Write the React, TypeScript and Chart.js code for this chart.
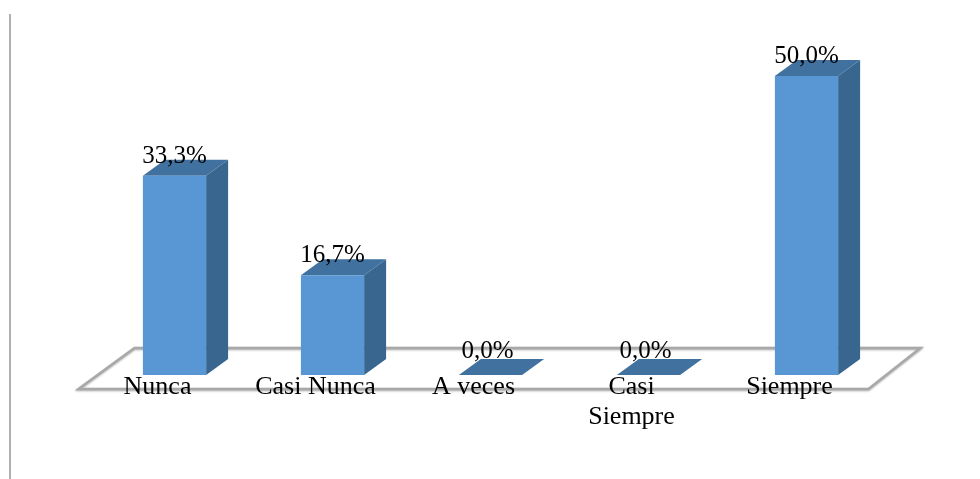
import React, { useEffect, useRef } from "react";
import { Chart, registerables } from "chart.js";

Chart.register(...registerables);

const categories: (string | string[])[] = ["Nunca", "Casi Nunca", "A veces", ["Casi", "Siempre"], "Siempre"];
const percentages = [33.3, 16.7, 0, 0, 50];

const FRONT = "#5896d4";
const SIDE = "#39668f";
const TOP = "#41719f";
const FLOOR = "#a8a8a8";
const VALUE_FONT = '25px "Liberation Serif", serif';

// Depth of the pseudo-3D extrusion on each column.
const DEPTH_X = 22;
const DEPTH_Y = 16;

const polygon = (ctx: CanvasRenderingContext2D, pts: number[][]) => {
  ctx.beginPath();
  pts.forEach(([x, y], i) => (i ? ctx.lineTo(x, y) : ctx.moveTo(x, y)));
  ctx.closePath();
};

const columnFloor = {
  id: "columnFloor",
  beforeDatasetsDraw(chart: Chart) {
    const { ctx, chartArea: a } = chart;
    ctx.save();
    ctx.strokeStyle = FLOOR;
    ctx.lineWidth = 2.5;
    ctx.shadowColor = "rgba(0,0,0,0.3)";
    ctx.shadowBlur = 2;
    ctx.shadowOffsetY = 1;
    polygon(ctx, [
      [a.left - 17, a.bottom + 14],
      [a.right - 17, a.bottom + 14],
      [a.right + 35, a.bottom - 27],
      [a.left + 39, a.bottom - 27],
    ]);
    ctx.stroke();
    ctx.restore();

    // Left page rule beside the chart.
    ctx.save();
    ctx.fillStyle = "#b0b0b0";
    ctx.fillRect(9, 14, 2, 465);
    ctx.restore();
  },
};

const columnFaces = {
  id: "columnFaces",
  beforeDatasetsDraw(chart: Chart) {
    const { ctx } = chart;
    const bars = chart.getDatasetMeta(0).data as any[];
    ctx.save();
    bars.forEach((bar) => {
      const half = bar.width / 2;
      const l = bar.x - half;
      const r = bar.x + half;
      ctx.fillStyle = SIDE;
      polygon(ctx, [
        [r, bar.y],
        [r + DEPTH_X, bar.y - DEPTH_Y],
        [r + DEPTH_X, bar.base - DEPTH_Y],
        [r, bar.base],
      ]);
      ctx.fill();
      ctx.fillStyle = TOP;
      polygon(ctx, [
        [l, bar.y],
        [l + DEPTH_X, bar.y - DEPTH_Y],
        [r + DEPTH_X, bar.y - DEPTH_Y],
        [r, bar.y],
      ]);
      ctx.fill();
    });
    ctx.restore();
  },
};

const valueLabels = {
  id: "valueLabels",
  afterDatasetsDraw(chart: Chart) {
    const { ctx } = chart;
    const bars = chart.getDatasetMeta(0).data as any[];
    ctx.save();
    ctx.font = VALUE_FONT;
    ctx.fillStyle = "#000";
    ctx.textAlign = "center";
    ctx.textBaseline = "alphabetic";
    bars.forEach((bar, i) => {
      const label = percentages[i].toFixed(1).replace(".", ",") + "%";
      const flat = percentages[i] === 0;
      ctx.fillText(label, bar.x - (flat ? 3 : 0), bar.y - (flat ? 17 : 13));
    });
    ctx.restore();
  },
};

export default function App() {
  const ref = useRef<HTMLCanvasElement>(null);
  useEffect(() => {
    const chart = new Chart(ref.current!, {
      type: "bar",
      data: {
        labels: categories as any,
        datasets: [
          {
            data: percentages,
            backgroundColor: FRONT,
            borderWidth: 0,
            categoryPercentage: 1,
            barPercentage: 0.4,
          },
        ],
      },
      options: {
        animation: false,
        responsive: false,
        layout: { padding: { left: 95.5, right: 94.5, top: 76, bottom: 0 } },
        plugins: { legend: { display: false }, tooltip: { enabled: false } },
        scales: {
          y: { display: false, min: 0, max: 50 },
          x: {
            afterFit(scale: any) {
              scale.height = 104;
            },
            grid: { display: false, drawTicks: false },
            border: { display: false },
            ticks: {
              z: 1,
              color: "#000",
              padding: -3,
              labelOffset: -17,
              autoSkip: false,
              maxRotation: 0,
              minRotation: 0,
              font: { family: '"Liberation Serif", serif', size: 26, lineHeight: 1.15 },
            },
          },
        },
      },
      plugins: [columnFloor, columnFaces, valueLabels],
    });
    return () => chart.destroy();
  }, []);
  return (
    <div style={{ position: "absolute", left: 0, top: 0, width: 980, height: 479, background: "#fff" }}>
      <canvas ref={ref} width={980} height={479} style={{ display: "block" }} />
    </div>
  );
}
